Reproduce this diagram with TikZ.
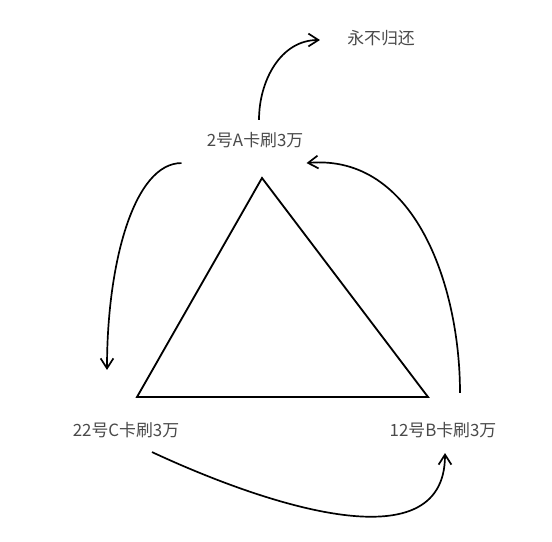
\documentclass[tikz,border=0pt]{standalone}
\usepackage{fontspec}
\newfontfamily\cjk{Noto Sans CJK SC}
\usetikzlibrary{arrows.meta,positioning}
\definecolor{labelgray}{HTML}{4A4A4A}

\begin{document}
\begin{tikzpicture}[x=0.025cm,y=-0.025cm,
  card/.style={inner sep=0pt,text=labelgray,font=\cjk\fontsize{12}{14}\selectfont},
  flow/.style={line width=1.2pt,-{Straight Barb[length=2.5mm,width=3.2mm,line width=1.2pt]}}]
\fill[white] (0,0) rectangle (552,541);
\useasboundingbox (0,0) rectangle (552,541);
% triangle
\coordinate (apex) at (262,178);
\coordinate (left) at (137,397);
\coordinate (right) at (428,397);
\draw[line width=1.3pt,line join=miter] (apex) -- (left) -- (right) -- cycle;
% cards
\node[card] (never) at (381,38) {永不归还};
\node[card] (A) at (255,140) {2号A卡刷3万};
\node[card] (C) at (126,430) {22号C卡刷3万};
\node[card] (B) at (443,430) {12号B卡刷3万};
% arrows
\draw[flow] ([shift={(4,-12)}]A.north) to[out=90,in=180] ([shift={(-27,2)}]never.west);
\draw[flow] ([shift={(-25,15)}]A.south west) to[out=180,in=90,out looseness=0.55,in looseness=1.25] ([shift={(-19,-52)}]C.north);
\draw[flow] ([shift={(26,14)}]C.south) to[out=-25,in=-90] ([shift={(2,15)}]B.south);
\draw[flow] ([shift={(17,-29)}]B.north) to[out=90,in=5] ([shift={(3,15)}]A.south east);
\end{tikzpicture}
\end{document}
